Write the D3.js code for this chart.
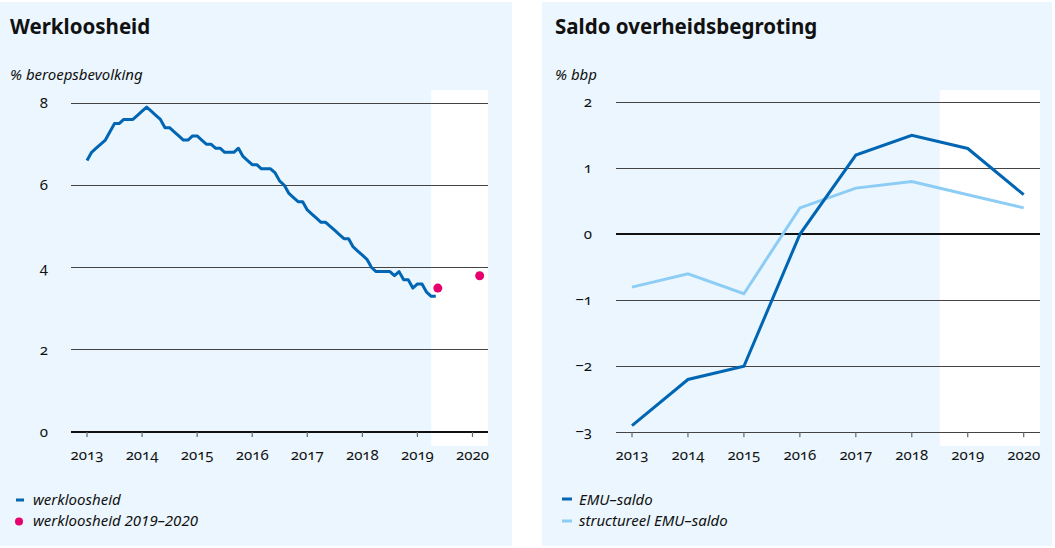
<!DOCTYPE html>
<html>
<head>
<meta charset="utf-8">
<script src="https://cdn.jsdelivr.net/npm/d3@7"></script>
<style>
  body { margin: 0; background: #fff; }
  text { font-family: "Noto Sans", "Open Sans", sans-serif; fill: #111; }
  .num { font-variant-numeric: oldstyle-nums; }
</style>
</head>
<body>
<script>
// werkloosheid, maandcijfers jan 2013 t/m mei 2019
var werkloosheidStart = 2013;
var werkloosheid = [
  6.6, 6.8, 6.9, 7.0, 7.1, 7.3, 7.5, 7.5, 7.6, 7.6, 7.6, 7.7,
  7.8, 7.9, 7.8, 7.7, 7.6, 7.4, 7.4, 7.3, 7.2, 7.1, 7.1, 7.2,
  7.2, 7.1, 7.0, 7.0, 6.9, 6.9, 6.8, 6.8, 6.8, 6.9, 6.7, 6.6,
  6.5, 6.5, 6.4, 6.4, 6.4, 6.3, 6.1, 6.0, 5.8, 5.7, 5.6, 5.6,
  5.4, 5.3, 5.2, 5.1, 5.1, 5.0, 4.9, 4.8, 4.7, 4.7, 4.5, 4.4,
  4.3, 4.2, 4.0, 3.9, 3.9, 3.9, 3.9, 3.8, 3.9, 3.7, 3.7, 3.5,
  3.6, 3.6, 3.4, 3.3, 3.3
];
var ramingJaren = [2019.37, 2020.13];
var ramingWaarden = [3.5, 3.8];
var ramingStartLinks = 2019.25;

var jaren = [2013, 2014, 2015, 2016, 2017, 2018, 2019, 2020];
var emuSaldo = [-2.9, -2.2, -2.0, 0.0, 1.2, 1.5, 1.3, 0.6];
var structureelSaldo = [-0.8, -0.6, -0.9, 0.4, 0.7, 0.8, 0.6, 0.4];
var ramingStartRechts = 2018.5;

var yTicksLinks = [0, 2, 4, 6, 8];
var yTicksRechts = [-3, -2, -1, 0, 1, 2];

var donkerblauw = "#0066b3";
var lichtblauw = "#8dcdf5";
var roze = "#e6006e";
var paneelkleur = "#ebf6fe";

var svg = d3.select("body").append("svg")
  .attr("width", 1055)
  .attr("height", 548);

// panelen
svg.append("rect").attr("x", 0).attr("y", 2).attr("width", 512).attr("height", 544).attr("fill", paneelkleur);
svg.append("rect").attr("x", 542).attr("y", 2).attr("width", 510).attr("height", 544).attr("fill", paneelkleur);

function drawFrame(opts) {
  var g = svg.append("g");
  var x = opts.x, y = opts.y;

  g.append("text").attr("x", opts.left).attr("y", 34)
    .style("font-size", "20.5px").style("font-weight", "bold").text(opts.title);
  g.append("text").attr("x", opts.left).attr("y", 80)
    .style("font-size", "15px").style("font-style", "italic").text(opts.unit);

  // witte vlak voor de raming
  g.append("rect")
    .attr("x", x(opts.ramingStart)).attr("y", 90)
    .attr("width", opts.plotRight - x(opts.ramingStart)).attr("height", 356)
    .attr("fill", "#fff");

  // gridlijnen
  g.selectAll(".grid").data(opts.yTicks).enter().append("line")
    .attr("x1", opts.plotLeft).attr("x2", opts.plotRight)
    .attr("y1", d => y(d)).attr("y2", d => y(d))
    .attr("stroke", d => d == 0 ? "#111" : "#444")
    .attr("stroke-width", d => d == 0 ? 2 : 1)
    .attr("shape-rendering", "crispEdges");

  g.selectAll(".ylab").data(opts.yTicks).enter().append("text")
    .attr("class", "num")
    .attr("x", opts.labelX).attr("y", d => y(d) + 5)
    .attr("text-anchor", "end")
    .style("font-size", "15px")
    .text(d => d3.format("d")(d));

  // x-as ticks
  var bottom = y(opts.yTicks[0]);
  g.selectAll(".xtick").data(jaren).enter().append("line")
    .attr("x1", d => x(d)).attr("x2", d => x(d))
    .attr("y1", bottom).attr("y2", bottom + 5)
    .attr("stroke", "#666").attr("stroke-width", 1.2);
  g.selectAll(".xlab").data(jaren).enter().append("text")
    .attr("class", "num")
    .attr("x", d => x(d)).attr("y", bottom + 28)
    .attr("text-anchor", "middle")
    .style("font-size", "15px")
    .text(d => d);
  return g;
}

// ---------- Werkloosheid ----------
var xL = d3.scaleLinear().domain([2013, 2020]).range([87, 472.5]);
var yL = d3.scaleLinear().domain([0, 8]).range([432, 103]);

var gL = drawFrame({
  title: "Werkloosheid", unit: "% beroepsbevolking", left: 10,
  x: xL, y: yL, plotLeft: 71, plotRight: 488, labelX: 48,
  yTicks: yTicksLinks, ramingStart: ramingStartLinks
});

var maandData = werkloosheid.map((v, i) => ({t: werkloosheidStart + i / 12, v: v}));
gL.append("path")
  .datum(maandData)
  .attr("fill", "none").attr("stroke", donkerblauw).attr("stroke-width", 3)
  .attr("stroke-linejoin", "round")
  .attr("d", d3.line().x(d => xL(d.t)).y(d => yL(d.v)));

gL.selectAll(".raming").data(ramingJaren).enter().append("circle")
  .attr("cx", d => xL(d))
  .attr("cy", (d, i) => yL(ramingWaarden[i]))
  .attr("r", 4.5).attr("fill", roze);

// legenda links
gL.append("line").attr("x1", 16).attr("x2", 24).attr("y1", 500).attr("y2", 500)
  .attr("stroke", donkerblauw).attr("stroke-width", 3);
gL.append("text").attr("x", 33).attr("y", 505).style("font-size", "15px").style("font-style", "italic")
  .text("werkloosheid");
gL.append("circle").attr("cx", 19).attr("cy", 521.5).attr("r", 4).attr("fill", roze);
gL.append("text").attr("x", 33).attr("y", 526).style("font-size", "15px").style("font-style", "italic")
  .text("werkloosheid 2019–2020");

// ---------- Saldo overheidsbegroting ----------
var xR = d3.scaleLinear().domain([2013, 2020]).range([632, 1023.7]);
var yR = d3.scaleLinear().domain([-3, 2]).range([432.3, 102.3]);

var gR = drawFrame({
  title: "Saldo overheidsbegroting", unit: "% bbp", left: 555,
  x: xR, y: yR, plotLeft: 616, plotRight: 1040, labelX: 592,
  yTicks: yTicksRechts, ramingStart: ramingStartRechts
});

var lijnR = d3.line().x((d, i) => xR(jaren[i])).y(d => yR(d));
gR.append("path").datum(structureelSaldo)
  .attr("fill", "none").attr("stroke", lichtblauw).attr("stroke-width", 3)
  .attr("d", lijnR);
gR.append("path").datum(emuSaldo)
  .attr("fill", "none").attr("stroke", donkerblauw).attr("stroke-width", 3)
  .attr("d", lijnR);

// legenda rechts
gR.append("line").attr("x1", 562).attr("x2", 572).attr("y1", 499).attr("y2", 499)
  .attr("stroke", donkerblauw).attr("stroke-width", 3);
gR.append("text").attr("x", 579).attr("y", 505).style("font-size", "15px").style("font-style", "italic")
  .text("EMU–saldo");
gR.append("line").attr("x1", 562).attr("x2", 572).attr("y1", 521).attr("y2", 521)
  .attr("stroke", lichtblauw).attr("stroke-width", 3);
gR.append("text").attr("x", 579).attr("y", 526).style("font-size", "15px").style("font-style", "italic")
  .text("structureel EMU–saldo");
</script>
</body>
</html>
